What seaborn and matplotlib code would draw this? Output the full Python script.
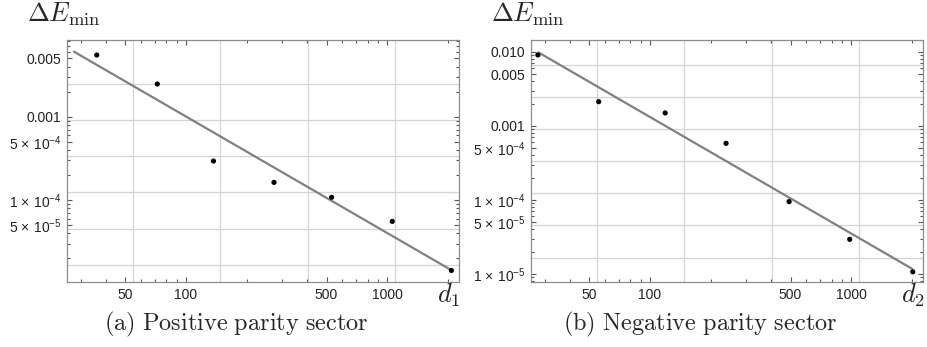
import numpy as np
import pandas as pd
import matplotlib
matplotlib.use("Agg")
import matplotlib.pyplot as plt
import seaborn as sns

# ---- data ----
d1 = [36, 72, 137, 274, 530, 1062, 2090]
E1 = [5.5e-3, 2.47e-3, 2.94e-4, 1.63e-4, 1.08e-4, 5.55e-5, 1.43e-5]
fit1_range = [27.7, 2056]

d2 = [27.7, 55.6, 119, 239, 492, 985, 2028]
E2 = [9.1e-3, 2.13e-3, 1.50e-3, 5.83e-4, 9.5e-5, 2.94e-5, 1.07e-5]
fit2_range = [27.9, 2018]

x_major = [50, 100, 500, 1000]
x_major_labels = ["50", "100", "500", "1000"]
y1_major = [5e-3, 1e-3, 5e-4, 1e-4, 5e-5]
y1_labels = ["0.005", "0.001", r"$5\,\times\,10^{-4}$", r"$1\,\times\,10^{-4}$", r"$5\,\times\,10^{-5}$"]
y2_major = [1e-2, 5e-3, 1e-3, 5e-4, 1e-4, 5e-5, 1e-5]
y2_labels = ["0.010", "0.005", "0.001", r"$5\,\times\,10^{-4}$", r"$1\,\times\,10^{-4}$",
             r"$5\,\times\,10^{-5}$", r"$1\,\times\,10^{-5}$"]
xlabels = [r"$d_1$", r"$d_2$"]
captions = [r"$\mathrm{(a)\ Positive\ parity\ sector}$", r"$\mathrm{(b)\ Negative\ parity\ sector}$"]
ylabel = r"$\Delta E_{\min}$"

sns.set_theme(style="ticks")
plt.rcParams.update({
    "font.family": ["Liberation Sans", "DejaVu Sans"],
    "mathtext.fontset": "custom",
    "mathtext.rm": "Liberation Sans",
    "mathtext.it": "Liberation Sans:italic",
    "mathtext.bf": "Liberation Sans:bold",
    "mathtext.fallback": "cm",
})

fig = plt.figure(figsize=(9.28, 3.47), dpi=100)
W, H = 928, 347

def px_axes(x0, x1, y0, y1):
    return fig.add_axes([x0 / W, 1 - y1 / H, (x1 - x0) / W, (y1 - y0) / H])

panels = [
    dict(ax=px_axes(67, 459, 40, 282), d=d1, E=E1, fr=fit1_range,
         ylim=(1.04e-5, 8.33e-3), ymaj=y1_major, ylab=y1_labels,
         hgrid=[np.exp(-k) for k in range(6, 12)]),
    dict(ax=px_axes(531, 923, 40, 282), d=d2, E=E2, fr=fit2_range,
         ylim=(7.8e-6, 1.45e-2), ymaj=y2_major, ylab=y2_labels,
         hgrid=[np.exp(-k) for k in range(5, 12)]),
]

grid_col = "#d4d4d4"
frame_col = "#8c8c8c"
tick_col = "#555555"
all_minor = [m * 10.0 ** e for e in range(-6, 5) for m in range(1, 10)]

for i, p in enumerate(panels):
    ax = p["ax"]
    ax.set_xscale("log")
    ax.set_yscale("log")
    ax.set_xlim(25.6, 2280)
    ax.set_ylim(*p["ylim"])

    for k in range(4, 8):
        ax.axvline(np.exp(k), color=grid_col, lw=0.9, zorder=0)
    for g in p["hgrid"]:
        ax.axhline(g, color=grid_col, lw=0.9, zorder=0)

    # fitted power law
    lx = np.log10(p["d"])
    ly = np.log10(p["E"])
    b, a = np.polyfit(lx, ly, 1)
    fx = np.array(p["fr"])
    fit_df = pd.DataFrame({"d": fx, "E": 10 ** (a + b * np.log10(fx))})
    sns.lineplot(data=fit_df, x="d", y="E", ax=ax, color="#808080", lw=1.6, zorder=2)

    df = pd.DataFrame({"d": p["d"], "E": p["E"]})
    sns.scatterplot(data=df, x="d", y="E", ax=ax, color="black", s=14,
                    edgecolor="none", zorder=3)

    ax.set_xlabel("")
    ax.set_ylabel("")
    ax.xaxis.set_major_locator(matplotlib.ticker.FixedLocator(x_major))
    ax.xaxis.set_major_formatter(matplotlib.ticker.FixedFormatter(x_major_labels))
    ax.xaxis.set_minor_locator(matplotlib.ticker.FixedLocator(
        [v for v in all_minor if v not in x_major]))
    ax.xaxis.set_minor_formatter(matplotlib.ticker.NullFormatter())
    ax.yaxis.set_major_locator(matplotlib.ticker.FixedLocator(p["ymaj"]))
    ax.yaxis.set_major_formatter(matplotlib.ticker.FixedFormatter(p["ylab"]))
    ax.yaxis.set_minor_locator(matplotlib.ticker.FixedLocator(
        [v for v in all_minor if not any(abs(v - m) / m < 1e-6 for m in p["ymaj"])]))
    ax.yaxis.set_minor_formatter(matplotlib.ticker.NullFormatter())

    ax.tick_params(which="both", direction="in", top=True, right=True,
                   color=tick_col, width=0.8, labelsize=10, labelcolor="#222222")
    ax.tick_params(which="major", length=3.5, pad=4)
    ax.tick_params(which="minor", length=2.0)
    for s in ax.spines.values():
        s.set_color(frame_col)
        s.set_linewidth(0.9)
    ax.set_facecolor("white")

    off = 464 * i
    fig.text((27 + off) / W, 1 - 22 / H, ylabel, fontsize=19, math_fontfamily="cm",
             ha="left", va="baseline")
    fig.text((461 + off) / W, 1 - 303 / H, xlabels[i], fontsize=19, math_fontfamily="cm",
             ha="right", va="baseline")
    fig.text((236 + off) / W, 1 - 330 / H, captions[i], fontsize=17.5, math_fontfamily="cm",
             ha="center", va="baseline")

fig.savefig("out.png", dpi=100, facecolor="white")
